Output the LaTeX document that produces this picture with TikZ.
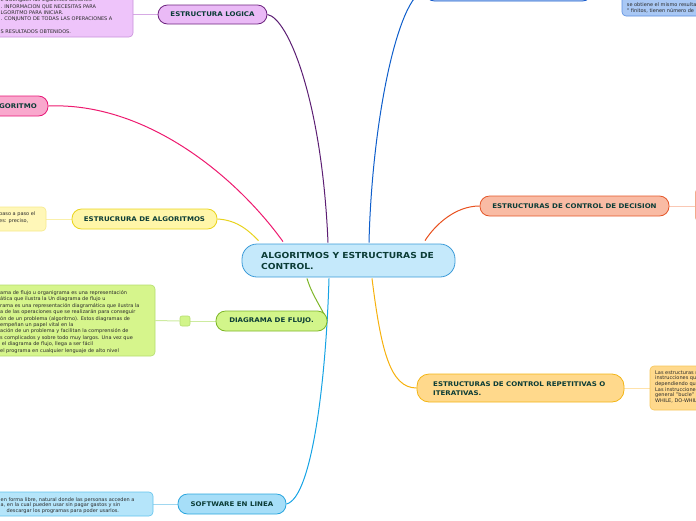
\documentclass[tikz,border=0pt]{standalone}
\usepackage{fontspec}
\setmainfont{DejaVu Sans}
\newfontfamily\widebold{DejaVu Sans Bold}[FakeStretch=1.1]
\usetikzlibrary{backgrounds}
\definecolor{txt}{HTML}{0B3C36}
\definecolor{ntxt}{HTML}{2A2A2A}
\begin{document}
\begin{tikzpicture}[x=1pt,y=-1pt,
  topic/.style={draw, rounded corners=9.5pt, line width=0.8pt, inner sep=0pt,
    font=\widebold\fontsize{6.4}{8}\selectfont, text=txt},
  notebox/.style={draw, rounded corners=4pt, line width=0.6pt, inner sep=0pt},
  ntext/.style={anchor=north west, inner sep=0pt, align=left, text=ntxt},
  conn/.style={line width=1pt},
  link/.style={line width=1pt}]
\useasboundingbox (0,0) rectangle (696,520);

% central topic
\node[topic, rounded corners=15pt, fill={rgb,255:red,197;green,233;blue,251}, draw={rgb,255:red,60;green,155;blue,216},
  minimum width=213pt, minimum height=33pt] (center) at (348.5,260.5) {};
\node[anchor=west, inner sep=0pt, align=left, text=txt,
  font=\widebold\fontsize{8.3}{11}\selectfont] (ctext) at (261,261)
  {ALGORITMOS Y ESTRUCTURAS DE\\CONTROL.};

% ESTRUCTURA LOGICA
\node[topic, fill={rgb,255:red,234;green,186;blue,246}, draw={rgb,255:red,110;green,38;blue,128},
  minimum width=109pt, minimum height=19pt] (logica) at (212.5,14.5) {ESTRUCTURA LOGICA};
\node[notebox, fill={rgb,255:red,238;green,196;blue,250}, draw={rgb,255:red,200;green,145;blue,218},
  minimum width=153pt, minimum height=57pt] (pbox) at (56.5,8.5) {};
\node[ntext, font=\fontsize{5}{6.3}\selectfont] (ptext) at (0.5,-2.2)
  {e distinguen las siguientes acciones:\\. INFORMACION QUE NECESITAS PARA\\LGORITMO PARA INICIAR.\\. CONJUNTO DE TODAS LAS OPERACIONES A\\ \\S RESULTADOS OBTENIDOS.};

% ALGORITMO
\node[topic, fill={rgb,255:red,249;green,168;blue,205}, draw={rgb,255:red,232;green,24;blue,120},
  minimum width=70pt, minimum height=20pt] (algo) at (13,106) {ALGORITMO};

% ESTRUCRURA DE ALGORITMOS
\node[topic, fill={rgb,255:red,255;green,246;blue,168}, draw={rgb,255:red,234;green,212;blue,30},
  minimum width=145pt, minimum height=20pt] (estalg) at (144.5,219) {ESTRUCRURA DE ALGORITMOS};
\node[notebox, fill={rgb,255:red,255;green,247;blue,184}, draw={rgb,255:red,246;green,233;blue,140},
  minimum width=66pt, minimum height=24pt] (ybox) at (13,219) {};
\node[ntext, font=\fontsize{5}{7.4}\selectfont] (ytext) at (-1,211.3)
  {paso a paso el\\es: preciso,};

% DIAGRAMA DE FLUJO
\node[topic, fill={rgb,255:red,210;green,245;blue,138}, draw={rgb,255:red,126;green,182;blue,40},
  minimum width=111pt, minimum height=20pt] (flujo) at (271.5,321) {DIAGRAMA DE FLUJO.};
\node[draw={rgb,255:red,180;green,222;blue,111}, fill={rgb,255:red,210;green,245;blue,138}, rounded corners=2pt,
  line width=0.6pt, minimum width=10pt, minimum height=10pt, inner sep=0pt] (gsq) at (185,321) {};
\node[notebox, fill={rgb,255:red,214;green,245;blue,140}, draw={rgb,255:red,180;green,222;blue,111},
  minimum width=175pt, minimum height=71pt] (gbox) at (67.5,320.5) {};
\node[ntext, font=\fontsize{5}{6.4}\selectfont] (gtext) at (0,290.3)
  {ama de flujo u organigrama es una representación\\
   ática que ilustra la Un diagrama de flujo u\\
   rama es una representación diagramática que ilustra la\\
   a de las operaciones que se realizarán para conseguir\\
   ón de un problema (algoritmo). Estos diagramas de\\
   empeñan un papel vital en la\\
   ación de un problema y facilitan la comprensión de\\
   s complicados y sobre todo muy largos. Una vez que\\
   \ el diagrama de flujo, llega a ser fácil\\
   el programa en cualquier lenguaje de alto nivel};

% SOFTWARE EN LINEA
\node[topic, fill={rgb,255:red,166;green,222;blue,248}, draw={rgb,255:red,44;green,166;blue,222},
  minimum width=108pt, minimum height=20pt] (soft) at (232,504) {SOFTWARE EN LINEA};
\node[notebox, fill={rgb,255:red,181;green,229;blue,250}, draw={rgb,255:red,98;green,195;blue,236},
  minimum width=173pt, minimum height=24pt] (sbox) at (66.5,504) {};
\node[ntext, font=\fontsize{5}{5.8}\selectfont] (stext) at (0.5,497)
  {en forma libre, natural donde las personas acceden a\\
   a, en la cual pueden usar sin pagar gastos y sin\\
   \hspace*{6pt}descargar los programas para poder usarlos.};

% top blue topic (mostly off the page)
\node[topic, fill={rgb,255:red,170;green,200;blue,244}, draw={rgb,255:red,30;green,95;blue,204},
  minimum width=167pt, minimum height=21pt] (topb) at (508.5,-9.5) {};
\node[notebox, fill={rgb,255:red,169;green,200;blue,245}, draw={rgb,255:red,90;green,142;blue,224},
  minimum width=138pt, minimum height=36pt] (tbox) at (691,-2) {};
\node[ntext, font=\fontsize{5}{6}\selectfont] (ttext) at (626.7,2.3)
  {se obtiene el mismo resultado\\° finitos, tienen número de};

% DECISION
\node[topic, fill={rgb,255:red,249;green,187;blue,164}, draw={rgb,255:red,229;green,88;blue,43},
  minimum width=189pt, minimum height=20pt] (dec) at (574.5,206) {ESTRUCTURAS DE CONTROL DE DECISION};
\node[notebox, fill={rgb,255:red,252;green,215;blue,200}, draw={rgb,255:red,244;green,170;blue,140},
  minimum width=104.5pt, minimum height=34pt] (dbox) at (747.75,205) {};

% REPETITIVAS
\node[topic, rounded corners=12pt, fill={rgb,255:red,255;green,217;blue,140}, draw={rgb,255:red,243;green,181;blue,21},
  minimum width=207pt, minimum height=28pt] (rep) at (520.5,388) {};
\node[anchor=west, inner sep=0pt, align=left, text=txt,
  font=\widebold\fontsize{6.4}{9}\selectfont] (reptext) at (433,388.5)
  {ESTRUCTURAS DE CONTROL REPETITIVAS O\\ITERATIVAS.};
\node[notebox, fill={rgb,255:red,255;green,217;blue,140}, draw={rgb,255:red,246;green,198;blue,90},
  minimum width=110pt, minimum height=44pt] (rbox) at (705,388) {};
\node[ntext, font=\fontsize{5}{5.6}\selectfont] (rtext) at (655,370.3)
  {Las estructuras repetitivas\\instrucciones que\\dependiendo que\\Las instrucciones\\general "bucle"\\WHILE, DO-WHILE};

\begin{scope}[on background layer]
  % links to notes
  \draw[link, draw={rgb,255:red,214;green,170;blue,228}] (logica.west) -- (logica.west -| pbox.east);
  \draw[link, draw={rgb,255:red,250;green,240;blue,170}] (estalg.west) -- (ybox.east);
  \draw[link, draw={rgb,255:red,205;green,235;blue,160}] (flujo.west) -- (gsq.east);
  \draw[link, draw={rgb,255:red,205;green,235;blue,160}] (gsq.west) -- (gbox.east);
  \draw[link, draw={rgb,255:red,160;green,215;blue,240}] (soft.west) -- (sbox.east);
  \draw[link, draw={rgb,255:red,250;green,200;blue,180}] (dec.east) -- (dec.east -| dbox.west);
  \draw[link, draw={rgb,255:red,255;green,226;blue,170}] (rep.east) -- (rbox.west);
  % main connectors
  \draw[conn, draw={rgb,255:red,92;green,30;blue,115}] (logica.east) .. controls (288,18) and (322,100) .. ([xshift=-20.5pt,yshift=1pt]center.north);
  \draw[conn, draw={rgb,255:red,237;green,26;blue,111}] (algo.east) .. controls (145,102) and (235,175) .. ([xshift=-65.5pt,yshift=2pt]center.north);
  \draw[conn, draw={rgb,255:red,232;green,211;blue,30}] (estalg.east) .. controls (238,220) and (250,232) .. ([xshift=-90pt,yshift=3pt]center.north);
  \draw[conn, draw={rgb,255:red,14;green,94;blue,203}] ([xshift=20.5pt,yshift=1pt]center.north) .. controls (372,120) and (398,-4) .. (topb.west);
  \draw[conn, draw={rgb,255:red,232;green,81;blue,31}] (dec.west) .. controls (455,206) and (435,225) .. ([xshift=76.5pt,yshift=3pt]center.north);
  \draw[conn, draw={rgb,255:red,126;green,182;blue,40}] ([xshift=-41.5pt,yshift=-1pt]center.south) .. controls (312,295) and (320,305) .. (flujo.east);
  \draw[conn, draw={rgb,255:red,22;green,163;blue,228}] ([xshift=-19.5pt,yshift=-1pt]center.south) .. controls (326,380) and (312,498) .. (soft.east);
  \draw[conn, draw={rgb,255:red,246;green,177;blue,13}] ([xshift=23.5pt,yshift=-1pt]center.south) .. controls (381,350) and (390,388) .. (rep.west);
\end{scope}
\end{tikzpicture}
\end{document}
